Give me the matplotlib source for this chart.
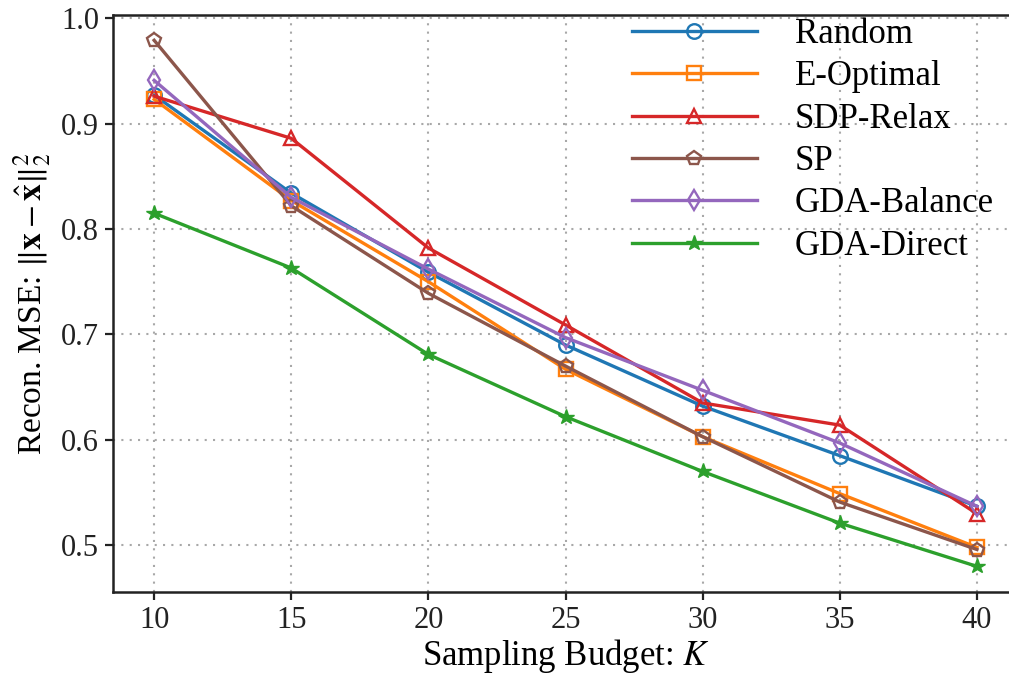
import matplotlib
matplotlib.use("Agg")
import matplotlib.pyplot as plt

plt.rcParams["font.family"] = ["Liberation Serif", "DejaVu Serif"]
plt.rcParams["mathtext.fontset"] = "stix"

budgets = [10, 15, 20, 25, 30, 35, 40]
random_mse = [0.927, 0.834, 0.759, 0.690, 0.632, 0.585, 0.537]
e_optimal_mse = [0.923, 0.827, 0.750, 0.667, 0.603, 0.549, 0.498]
sdp_relax_mse = [0.926, 0.886, 0.782, 0.709, 0.635, 0.614, 0.530]
sp_mse = [0.979, 0.822, 0.739, 0.670, 0.603, 0.541, 0.496]
gda_balance_mse = [0.941, 0.830, 0.762, 0.697, 0.647, 0.597, 0.537]
gda_direct_mse = [0.815, 0.763, 0.681, 0.622, 0.570, 0.521, 0.480]

series = [
    ("Random", random_mse, "#1f77b4", "o"),
    ("E-Optimal", e_optimal_mse, "#ff7f0e", "s"),
    ("SDP-Relax", sdp_relax_mse, "#d62728", "^"),
    ("SP", sp_mse, "#8c564b", "p"),
    ("GDA-Balance", gda_balance_mse, "#9467bd", "d"),
    ("GDA-Direct", gda_direct_mse, "#2ca02c", "*"),
]

fig = plt.figure(figsize=(10.09, 6.78), dpi=100)
ax = fig.add_axes([0.112, 0.1273, 0.897, 0.8506])

for name, vals, color, marker in series:
    if marker == "*":
        ax.plot(budgets, vals, color=color, marker=marker, markersize=11.5,
                linewidth=2.4, label=name, markeredgewidth=1.0)
    else:
        ax.plot(budgets, vals, color=color, marker=marker, markersize=10.5,
                markerfacecolor="none", markeredgewidth=1.7,
                linewidth=2.4, label=name)

ax.set_xlim(8.5, 41.5)
ax.set_ylim(0.456, 1.003)
ax.set_xticks(budgets)
ax.set_yticks([0.5, 0.6, 0.7, 0.8, 0.9, 1.0])
ax.grid(True, linestyle=(0, (1, 3)), color="#a8a8a8", linewidth=1.5)
ax.set_axisbelow(True)

for side in ["left", "bottom", "top", "right"]:
    ax.spines[side].set_linewidth(1.8)
    ax.spines[side].set_color("#222222")

ax.tick_params(axis="both", labelsize=22, length=6, width=1.6, direction="out",
               colors="#222222", pad=4)
ax.set_xlabel("Sampling Budget: $K$", fontsize=25, labelpad=2)
ax.set_ylabel(r"Recon. MSE: $\|\mathbf{x}-\hat{\mathbf{x}}\|_2^2$", fontsize=24, labelpad=6)

ax.legend(loc="upper left", bbox_to_anchor=(0.558, 1.019), frameon=False,
          borderaxespad=0.0, fontsize=25, handlelength=3.6, handletextpad=1.1,
          labelspacing=0.27)

fig.savefig("out.png", dpi=100)
